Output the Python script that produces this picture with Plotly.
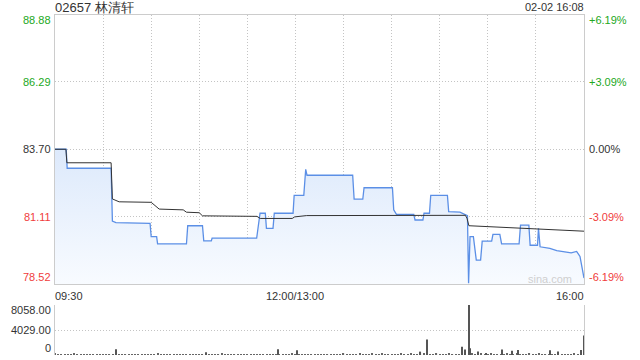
import plotly.graph_objects as go

# ---------------- data ----------------
title_text = "02657 林清轩"
date_text = "02-02 16:08"
prev_close = 83.70

price_ticks = [88.88, 86.29, 83.70, 81.11, 78.52]
pct_ticks = ["+6.19%", "+3.09%", "0.00%", "-3.09%", "-6.19%"]
vol_ticks = [8058.00, 4029.00, 0]
vol_tick_text = ["8058.00", "4029.00", "0"]
time_labels = ["09:30", "12:00/13:00", "16:00"]
time_label_pos = [0, 150, 330]

# minute index since 09:30 (lunch break removed), price
price_t = [0, 7, 7.6, 35, 35.8, 38, 59.3, 60, 63.4, 64, 82, 82.8, 92, 92.8, 97.5, 98,
           125.8, 127.9, 131.2, 131.9, 136, 136.8, 148.5, 149.2, 155.2, 156.4, 157.2,
           185.7, 186.6, 192, 192.8, 210.5, 211.3, 213, 223.8, 224.6, 229.5, 230.2,
           233.6, 234.4, 244.8, 245.6, 252.6, 254.6, 257.3, 258, 258.9, 261, 262.8,
           265.5, 266.5, 272.4, 273.2, 277.5, 278.6, 289.5, 290.4, 295.6, 296.4,
           301, 301.6, 302.6, 308.7, 313, 322, 325.4, 327.5, 330]
price_v = [83.70, 83.70, 82.97, 82.97, 80.94, 80.88, 80.85, 80.34, 80.34, 80.06, 80.06, 80.76, 80.76, 80.18, 80.18, 80.28,
           80.28, 81.24, 81.24, 80.66, 80.66, 81.24, 81.24, 81.93, 81.93, 82.93, 82.70,
           82.70, 81.78, 81.78, 82.22, 82.22, 81.37, 81.20, 81.20, 80.98, 80.98, 81.24,
           81.24, 81.93, 81.93, 81.30, 81.28, 81.22, 81.15, 78.55, 80.34, 80.34, 79.44,
           79.44, 80.17, 80.17, 80.43, 80.43, 80.06, 80.06, 80.78, 80.78, 80.01,
           80.01, 80.66, 79.95, 79.89, 79.80, 79.72, 79.77, 79.58, 78.75]

avg_t = [0, 6.8, 7.4, 35, 35.8, 40, 60, 62, 65, 80, 82, 90, 92, 126, 128, 148, 149.5, 157, 256, 257, 258.2, 330]
avg_v = [83.70, 83.70, 83.18, 83.18, 81.79, 81.68, 81.66, 81.56, 81.40, 81.37, 81.28, 81.26, 81.14, 81.12, 81.04,
         81.04, 81.10, 81.15, 81.16, 81.05, 80.76, 80.55]

# small per-period volumes, every 2 minutes from 0 to 330
small_vol = [
    180, 90, 150, 120, 60, 140, 200, 110, 80, 130,
    160, 70, 120, 100, 150, 90, 60, 140, 110, 180,
    130, 80, 100, 160, 120, 70, 140, 90, 150, 110,
    60, 130, 170, 100, 80, 120, 150, 90, 140, 110,
    70, 160, 120, 100, 80, 130, 150, 60, 110, 140,
    90, 120, 170, 80, 100, 130, 60, 150, 110, 90,
    140, 120, 70, 160, 100, 130, 80, 110, 150, 90,
    120, 140, 60, 100, 170, 130, 80, 110, 150, 120,
    90, 140, 100, 70, 160, 120, 110, 150, 80, 130,
    200, 140, 110, 160, 90, 180, 130, 150, 100, 170,
    120, 140, 190, 110, 160, 130, 150, 100, 180, 140,
    120, 170, 130, 160, 110, 190, 150, 120, 140, 170,
    130, 160, 110, 180, 150, 140, 120, 170, 130, 160,
    190, 140, 120, 170, 150, 130, 180, 110, 160, 140,
    120, 170, 150, 130, 190, 140, 160, 120, 180, 150,
    130, 170, 140, 160, 120, 150, 140, 180, 120, 160,
    150, 130, 170, 140, 160, 200]
small_t = list(range(0, 331, 2))

spike_t = [38, 94, 139, 151, 228, 232, 254, 256, 258, 259, 264, 269, 279, 285, 289, 309, 314, 328, 330]
spike_v = [930, 440, 930, 770, 545, 2480, 1330, 900, 8058, 1090, 545, 330, 870, 700, 820, 760, 545, 820, 3160]

# ---------------- style ----------------
GREEN = "#22a822"
RED = "#f03c3c"
DARK = "#333333"
GRID = "#c4c4c4"
BORDER = "#cccccc"
DOTS = "1px,2px"
FONT = "Liberation Sans, Arial, sans-serif"

lab_colors = [GREEN, GREEN, DARK, RED, RED]

fig = go.Figure()

fig.add_trace(go.Scatter(
    x=price_t, y=price_v, mode="lines",
    line=dict(color="#5b8fe6", width=1.3),
    fill="tozeroy",
    fillgradient=dict(type="vertical",
                      colorscale=[[0, "#f8fbff"], [1, "#dbe8fb"]],
                      start=78.52, stop=84.0),
    xaxis="x", yaxis="y", hoverinfo="skip", showlegend=False))

fig.add_trace(go.Scatter(
    x=avg_t, y=avg_v, mode="lines",
    line=dict(color="#333333", width=1),
    xaxis="x", yaxis="y", hoverinfo="skip", showlegend=False))

fig.add_trace(go.Bar(x=small_t, y=small_vol, width=0.7, marker=dict(color="#666666", line=dict(width=0)),
                     xaxis="x2", yaxis="y2", showlegend=False, hoverinfo="skip"))
fig.add_trace(go.Bar(x=spike_t, y=spike_v, width=0.7, marker=dict(color="#555555", line=dict(width=0)),
                     xaxis="x2", yaxis="y2", showlegend=False, hoverinfo="skip"))

main_dom = [1 - 284 / 360, 1 - 14.5 / 360]
vol_dom = [1 - 355 / 360, 1 - 305 / 360]

fig.update_layout(
    width=640, height=360,
    margin=dict(l=55, r=56, t=0, b=0),
    paper_bgcolor="white", plot_bgcolor="white",
    barmode="overlay",
    font=dict(family=FONT, size=11, color=DARK),
    xaxis=dict(domain=[0, 1], range=[0, 330], tickvals=list(range(0, 331, 30)),
               showticklabels=False, showgrid=True, gridcolor=GRID, griddash=DOTS, gridwidth=1,
               showline=True, linecolor=BORDER, linewidth=1, mirror=True, zeroline=False, ticks=""),
    yaxis=dict(domain=main_dom, range=[78.52, 88.88], tickvals=price_ticks,
               showticklabels=False, showgrid=True, gridcolor=GRID, griddash=DOTS, gridwidth=1,
               showline=True, linecolor=BORDER, linewidth=1, mirror=True, zeroline=False, ticks=""),
    xaxis2=dict(domain=[0, 1], range=[0, 330], anchor="y2", showticklabels=False,
                showgrid=False, zeroline=False, showline=False, ticks=""),
    yaxis2=dict(domain=vol_dom, range=[0, 8058], anchor="x2", tickvals=[4029, 8058],
                showticklabels=False, showgrid=True, gridcolor=GRID, griddash=DOTS, gridwidth=1,
                showline=True, linecolor=BORDER, linewidth=1, mirror=True, zeroline=False, ticks=""),
)

ann = []
ann.append(dict(text=title_text, xref="paper", yref="paper", x=0, y=1, xanchor="left", yanchor="top",
                showarrow=False, font=dict(size=13, color=DARK), xshift=-2, yshift=2))
ann.append(dict(text=date_text, xref="paper", yref="paper", x=1, y=1, xanchor="right", yanchor="top",
                showarrow=False, font=dict(size=11, color=DARK), xshift=2, yshift=1))

n = len(price_ticks)
for i, (p, pct, c) in enumerate(zip(price_ticks, pct_ticks, lab_colors)):
    ys = -6 if i == 0 else (7 if i == n - 1 else 0)
    ann.append(dict(text=f"{p:.2f}", xref="paper", yref="y", x=0, y=p, xanchor="right", yanchor="middle",
                    showarrow=False, font=dict(size=11, color=c), xshift=-2, yshift=ys))
    ann.append(dict(text=pct, xref="paper", yref="y", x=1, y=p, xanchor="left", yanchor="middle",
                    showarrow=False, font=dict(size=11, color=c), xshift=3, yshift=ys))

for i, (v, t) in enumerate(zip(vol_ticks, vol_tick_text)):
    ys = -5 if i == 0 else (7 if i == len(vol_ticks) - 1 else 0)
    ann.append(dict(text=t, xref="paper", yref="y2", x=0, y=v, xanchor="right", yanchor="middle",
                    showarrow=False, font=dict(size=11, color=DARK), xshift=-2, yshift=ys))

anchors = ["left", "center", "right"]
for lab, pos, a in zip(time_labels, time_label_pos, anchors):
    ann.append(dict(text=lab, xref="x", yref="y", x=pos, y=78.52, xanchor=a, yanchor="middle",
                    showarrow=False, font=dict(size=11, color=DARK), yshift=-12,
                    xshift=(-2 if a == "left" else (2 if a == "right" else 0))))

ann.append(dict(text="sina.com", xref="paper", yref="y", x=1, y=78.52, xanchor="right", yanchor="bottom",
                showarrow=False, font=dict(size=11, color="#cfcfcf"), xshift=-10, yshift=-3))

fig.update_layout(annotations=ann)

fig.write_html("out.html")
